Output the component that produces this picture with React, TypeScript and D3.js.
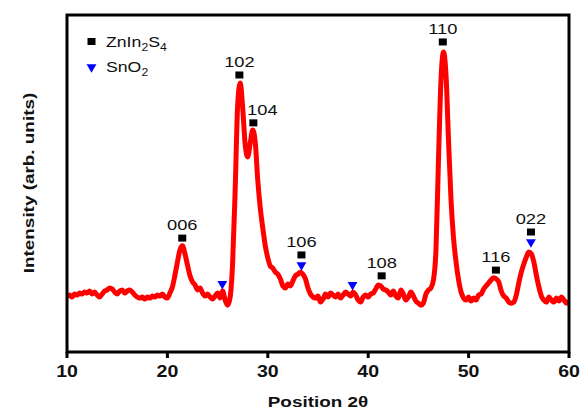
import React from "react";
import * as d3 from "d3";

// Diffraction pattern, 2θ from 10° to 60° in 0.25° steps
const thetaStart = 10;
const thetaStep = 0.25;
const intensity = [
  16.6, 16.9, 16.3, 17.2, 16.9, 17.5, 17.2, 17.8, 17.5, 18.1,
  17.2, 17.8, 16.9, 16.3, 17.2, 18.1, 18.4, 19.0, 18.7, 17.8,
  17.2, 18.1, 18.4, 17.5, 18.1, 18.4, 17.8, 16.9, 16.3, 16.0,
  16.3, 15.7, 16.3, 16.0, 16.6, 16.3, 16.9, 16.6, 17.2, 16.3,
  16.0, 17.5, 19.3, 22.8, 26.7, 30.3, 31.5, 29.1, 25.8, 22.6,
  20.8, 19.9, 18.4, 19.0, 17.5, 16.6, 17.2, 16.3, 15.7, 16.6,
  17.5, 16.0, 18.1, 15.4, 13.9, 16.3, 26.7, 48.1, 73.3, 79.8,
  72.4, 61.4, 57.9, 62.0, 65.9, 62.3, 51.0, 42.7, 36.8, 31.5,
  27.9, 25.5, 24.9, 23.7, 23.1, 21.7, 19.6, 19.0, 20.2, 19.6,
  21.1, 22.6, 23.1, 23.7, 23.1, 21.7, 19.0, 17.2, 16.3, 16.0,
  16.6, 14.8, 15.7, 17.2, 16.3, 17.5, 16.9, 16.3, 17.2, 16.0,
  16.9, 17.8, 17.2, 16.6, 17.8, 16.9, 15.4, 14.8, 16.3, 16.9,
  16.3, 17.2, 17.5, 18.7, 19.9, 19.6, 18.7, 18.4, 17.8, 16.9,
  18.1, 16.6, 16.0, 18.4, 17.2, 15.4, 16.3, 17.8, 16.6, 15.1,
  14.5, 13.9, 14.5, 17.2, 18.4, 19.0, 21.4, 30.3, 57.0, 80.7,
  89.0, 82.2, 62.9, 45.1, 33.8, 26.7, 21.4, 17.8, 16.0, 15.4,
  16.3, 15.1, 16.0, 15.4, 16.9, 17.2, 18.7, 19.6, 20.5, 21.4,
  22.0, 21.7, 20.8, 18.1, 16.6, 16.0, 14.8, 14.5, 14.8, 16.9,
  20.5, 23.7, 26.1, 28.2, 29.7, 29.1, 26.7, 22.8, 19.3, 16.6,
  15.4, 14.8, 16.3, 15.4, 14.8, 16.0, 15.1, 16.3, 15.4, 14.5,
  15.1,
];

// ZnIn2S4 reflections (black squares)
const peakLabels = ["006", "102", "104", "106", "108", "110", "116", "022"];
const peakTheta = [21.48, 27.17, 28.56, 33.35, 41.34, 47.43, 52.72, 56.21];
const peakMarkI = [33.8, 82.2, 68.0, 28.8, 22.6, 92.0, 24.3, 35.6];

// SnO2 reflections (blue triangles)
const snTheta = [25.47, 33.35, 38.44, 56.21];
const snMarkI = [20.2, 25.8, 19.9, 32.6];

const xTicks = [10, 20, 30, 40, 50, 60];

const W = 582;
const H = 411;
const M = { left: 67, right: 13, top: 15, bottom: 59 };
const SX = 1.22; // horizontal stretch of the lettering

const font = "Arial, 'Liberation Sans', Helvetica, sans-serif";

function SText(props: {
  x: number;
  y: number;
  size: number;
  bold?: boolean;
  anchor?: "start" | "middle" | "end";
  rotate?: number;
  children: React.ReactNode;
}) {
  const { x, y, size, bold, anchor = "middle", rotate = 0, children } = props;
  return (
    <g transform={`translate(${x},${y}) rotate(${rotate}) scale(${SX},1)`}>
      <text
        x={0}
        y={0}
        textAnchor={anchor}
        fontSize={size}
        fontWeight={bold ? "bold" : "normal"}
        fill="#111"
        fontFamily={font}
      >
        {children}
      </text>
    </g>
  );
}

export default function App() {
  const x = d3.scaleLinear().domain([10, 60]).range([M.left, W - M.right]);
  const y = d3.scaleLinear().domain([0, 100]).range([H - M.bottom, M.top]);

  const pts: [number, number][] = intensity.map((v, i) => [thetaStart + i * thetaStep, v]);
  const line = d3
    .line<[number, number]>()
    .x((d) => x(d[0]))
    .y((d) => y(d[1]))
    .curve(d3.curveMonotoneX);

  const tri = d3.symbol().type(d3.symbolTriangle).size(42)();
  const labelDx = (l: string) => (l === "104" ? 9 : 0);

  return (
    <svg
      width={W}
      height={H}
      style={{ position: "absolute", left: 0, top: 0, display: "block", background: "#fff" }}
      fontFamily={font}
    >
      <defs>
        <clipPath id="plotClip">
          <rect x={M.left} y={M.top} width={W - M.left - M.right} height={H - M.top - M.bottom} />
        </clipPath>
      </defs>

      <path
        d={line(pts) || ""}
        fill="none"
        stroke="#ff0000"
        strokeWidth={5}
        strokeLinejoin="round"
        clipPath="url(#plotClip)"
      />

      {/* ZnIn2S4 markers */}
      {peakLabels.map((l, i) => (
        <g key={l}>
          <rect x={x(peakTheta[i]) - 4} y={y(peakMarkI[i]) - 3.5} width={8} height={7} fill="#000" />
          <SText x={x(peakTheta[i]) + labelDx(l)} y={y(peakMarkI[i]) - 8} size={15}>
            {l}
          </SText>
        </g>
      ))}

      {/* SnO2 markers */}
      {snTheta.map((t, i) => (
        <path
          key={i}
          d={tri || ""}
          transform={`translate(${x(t)},${y(snMarkI[i])}) rotate(180)`}
          fill="#0000ff"
        />
      ))}

      {/* Frame */}
      <rect
        x={M.left}
        y={M.top}
        width={W - M.left - M.right}
        height={H - M.top - M.bottom}
        fill="none"
        stroke="#000"
        strokeWidth={3}
      />

      {/* X ticks */}
      {xTicks.map((t) => (
        <g key={t}>
          <line x1={x(t)} x2={x(t)} y1={H - M.bottom} y2={H - M.bottom + 6} stroke="#000" strokeWidth={3} />
          <SText x={x(t)} y={H - M.bottom + 25} size={16} bold>
            {t}
          </SText>
        </g>
      ))}

      <SText x={318} y={407} size={15.5} bold>
        Position 2θ
      </SText>
      <SText x={34} y={183} size={15.5} bold rotate={-90}>
        Intensity (arb. units)
      </SText>

      {/* Legend */}
      <rect x={87.5} y={38} width={8} height={7} fill="#000" />
      <SText x={106} y={47} size={14.5} anchor="start">
        ZnIn
        <tspan fontSize={10} dy={4}>2</tspan>
        <tspan dy={-4}>S</tspan>
        <tspan fontSize={10} dy={4}>4</tspan>
      </SText>
      <path d={tri || ""} transform="translate(91.5,67) rotate(180)" fill="#0000ff" />
      <SText x={106} y={72} size={14.5} anchor="start">
        SnO
        <tspan fontSize={10} dy={4}>2</tspan>
      </SText>
    </svg>
  );
}
